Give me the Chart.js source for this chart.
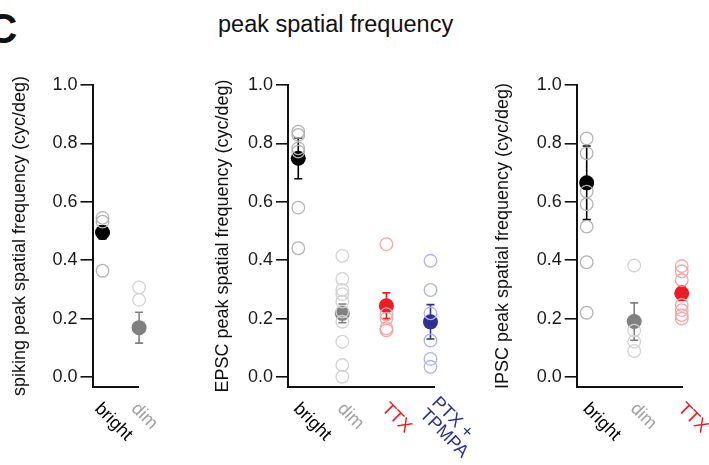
<!DOCTYPE html>
<html>
<head>
<meta charset="utf-8">
<script src="https://cdn.jsdelivr.net/npm/chart.js@4.4.1/dist/chart.umd.min.js"></script>
<style>
body { margin: 0; background: #fff; width: 709px; height: 465px; overflow: hidden; position: relative; font-family: "Liberation Sans", Arial, sans-serif; }
canvas { position: absolute; top: 0; }
#panelLetter { position: absolute; left: -13px; top: 5px; font-size: 42px; font-weight: bold; color: #111; }
#figTitle { position: absolute; left: 218px; top: 11px; font-size: 23.5px; color: #111; }
</style>
</head>
<body>
<div id="panelLetter">C</div>
<div id="figTitle">peak spatial frequency</div>
<canvas id="spikingChart" width="200" height="465" style="left:0px"></canvas>
<canvas id="epscChart" width="280" height="465" style="left:200px"></canvas>
<canvas id="ipscChart" width="229" height="465" style="left:480px"></canvas>
<script>
// 共通の目盛り
const yTicks = [0, 0.2, 0.4, 0.6, 0.8, 1.0];

// spiking
const spikingGroups = ['bright', 'dim'];
const spikingPoints = [
    [0.545, 0.532, 0.364],
    [0.307, 0.264, 0.089, 0.010]
];
const spikingMeans = [0.495, 0.169];
const spikingSem = [0.022, 0.053];

// EPSC
const epscGroups = ['bright', 'dim', 'TTX', 'PTX + TPMPA'];
const epscLabels = ['bright', 'dim', 'TTX', ['PTX +', 'TPMPA']];
const epscPoints = [
    [0.840, 0.829, 0.783, 0.772, 0.580, 0.441],
    [0.415, 0.336, 0.298, 0.284, 0.258, 0.224, 0.189, 0.121, 0.041, 0.001],
    [0.455, 0.215, 0.200, 0.167, 0.160],
    [0.398, 0.298, 0.218, 0.125, 0.062, 0.035]
];
const epscMeans = [0.749, 0.218, 0.244, 0.189];
const epscSem = [0.070, 0.032, 0.044, 0.059];

// IPSC
const ipscGroups = ['bright', 'dim', 'TTX'];
const ipscPoints = [
    [0.817, 0.766, 0.635, 0.592, 0.515, 0.393, 0.220],
    [0.382, 0.159, 0.121, 0.089],
    [0.380, 0.362, 0.332, 0.247, 0.229, 0.212, 0.200]
];
const ipscMeans = [0.665, 0.190, 0.287];
const ipscSem = [0.126, 0.064, 0.025];

// 色
const meanColors = { 'bright': '#000000', 'dim': '#808080', 'TTX': '#ed1c24', 'PTX + TPMPA': '#2e3192' };
const openColors = { 'bright': '#b4b4b4', 'dim': '#d2d2d2', 'TTX': '#f5a5a5', 'PTX + TPMPA': '#aeb0ee' };
const labelColors = { 'bright': '#000000', 'dim': '#a0a0a0', 'TTX': '#ed1c24', 'PTX + TPMPA': '#2e3192' };

const FONT = '"Liberation Sans", Arial, sans-serif';

// エラーバーを描くプラグイン
const errorBarPlugin = {
    id: 'errorBars',
    beforeDatasetDraw(chart, args, opts) {
        if (args.index !== chart.data.datasets.length - 1) return;
        const { ctx, scales: { x, y } } = chart;
        ctx.save();
        ctx.lineWidth = 1.6;
        opts.means.forEach((m, i) => {
            const px = x.getPixelForValue(i);
            const top = y.getPixelForValue(m + opts.sem[i]);
            const bot = y.getPixelForValue(m - opts.sem[i]);
            ctx.strokeStyle = opts.colors[i];
            ctx.beginPath();
            ctx.moveTo(px, top); ctx.lineTo(px, bot);
            ctx.moveTo(px - 4, top); ctx.lineTo(px + 4, top);
            ctx.moveTo(px - 4, bot); ctx.lineTo(px + 4, bot);
            ctx.stroke();
        });
        ctx.restore();
    }
};

// 斜めのカテゴリラベル
const slantLabelPlugin = {
    id: 'slantLabels',
    afterDraw(chart, args, opts) {
        const { ctx, scales: { x }, chartArea } = chart;
        ctx.save();
        ctx.font = '18px ' + FONT;
        ctx.textBaseline = 'middle';
        ctx.textAlign = 'left';
        opts.labels.forEach((lab, i) => {
            const lines = Array.isArray(lab) ? lab : [lab];
            ctx.save();
            ctx.translate(x.getPixelForValue(i) + opts.dx, chartArea.bottom + opts.dy);
            ctx.rotate(Math.PI / 4);
            ctx.fillStyle = opts.colors[i];
            lines.forEach((t, j) => ctx.fillText(t, 0, (j - (lines.length - 1) / 2) * 17));
            ctx.restore();
        });
        ctx.restore();
    }
};

function makePanel(id, groups, labels, points, means, sem, yTitle, layout) {
    const datasets = groups.map((g, i) => ({
        data: points[i].map(v => ({ x: i, y: v })),
        pointRadius: 6.3,
        pointBorderWidth: 1.3,
        borderColor: openColors[g],
        backgroundColor: 'rgba(0,0,0,0)',
        clip: false
    }));
    datasets.push({
        data: means.map((m, i) => ({ x: i, y: m })),
        pointRadius: 7.5,
        pointBorderWidth: 0,
        backgroundColor: groups.map(g => meanColors[g]),
        borderColor: groups.map(g => meanColors[g]),
        clip: false
    });

    new Chart(document.getElementById(id), {
        type: 'scatter',
        data: { datasets: datasets },
        options: {
            responsive: false,
            animation: false,
            events: [],
            layout: { padding: { left: layout.padLeft, right: layout.padRight, top: 85, bottom: 0 } },
            plugins: {
                legend: { display: false },
                tooltip: { enabled: false },
                errorBars: { means: means, sem: sem, colors: groups.map(g => meanColors[g]) },
                slantLabels: { labels: labels, colors: groups.map(g => labelColors[g]), dx: layout.dx, dy: 19 }
            },
            scales: {
                x: {
                    type: 'linear',
                    min: layout.xMin,
                    max: layout.xMax,
                    ticks: { display: false },
                    grid: { display: false },
                    border: { display: true, color: '#111', width: 2 },
                    afterFit: s => { s.height = 78; }
                },
                y: {
                    min: -0.0342,
                    max: 1.0,
                    afterBuildTicks: s => { s.ticks = yTicks.map(v => ({ value: v })); },
                    ticks: {
                        padding: 3,
                        color: '#1a1a1a',
                        font: { family: FONT, size: 18 },
                        callback: v => v.toFixed(1)
                    },
                    grid: { drawOnChartArea: false, drawTicks: true, tickLength: 12, color: '#111', lineWidth: 1.6 },
                    border: { display: true, color: '#111', width: 2 },
                    title: { display: true, text: yTitle, color: '#111', font: { family: FONT, size: 18 }, padding: 0 },
                    afterFit: s => { s.width = layout.yWidth; }
                }
            }
        },
        plugins: [errorBarPlugin, slantLabelPlugin]
    });
}

makePanel('spikingChart', spikingGroups, spikingGroups, spikingPoints, spikingMeans, spikingSem,
    'spiking peak spatial frequency (cyc/deg)',
    { padLeft: 9.5, yWidth: 83, padRight: 62, xMin: -0.274, xMax: 0.97, dx: -5 });

makePanel('epscChart', epscGroups, epscLabels, epscPoints, epscMeans, epscSem,
    'EPSC peak spatial frequency (cyc/deg)',
    { padLeft: 12.2, yWidth: 75.8, padRight: 46, xMin: -0.233, xMax: 3.08, dx: -2 });

makePanel('ipscChart', ipscGroups, ipscGroups, ipscPoints, ipscMeans, ipscSem,
    'IPSC peak spatial frequency (cyc/deg)',
    { padLeft: 12.2, yWidth: 84.5, padRight: 26.3, xMin: -0.21, xMax: 2.02, dx: -1 });
</script>
</body>
</html>
